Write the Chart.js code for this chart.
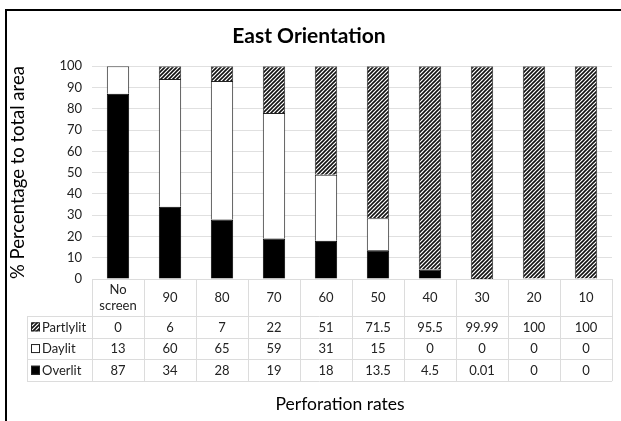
<!DOCTYPE html>
<html>
<head>
<meta charset="utf-8">
<script src="https://cdn.jsdelivr.net/npm/chart.js@4/dist/chart.umd.min.js"></script>
<style>
  html, body { margin: 0; padding: 0; background: #fff; overflow: hidden; }
  #wrap { position: relative; width: 621px; height: 421px; }
  #frame { position: absolute; left: 5px; top: 9px; width: 700px; height: 500px;
           border-left: 2px solid #000; border-top: 2px solid #000; }
  canvas { position: absolute; left: 0; top: 0; }
</style>
</head>
<body>
<div id="wrap">
  <div id="frame"></div>
  <canvas id="eastChart" width="621" height="421"></canvas>
</div>
<script>
const categories = ['No screen', '90', '80', '70', '60', '50', '40', '30', '20', '10'];
const partlylit = [0, 6, 7, 22, 51, 71.5, 95.5, 99.99, 100, 100];
const daylit = [13, 60, 65, 59, 31, 15, 0, 0, 0, 0];
const overlit = [87, 34, 28, 19, 18, 13.5, 4.5, 0.01, 0, 0];
const yTickStep = 10;
const yMax = 100;

const FONT = 'Lato, "Open Sans", sans-serif';

// diagonal hatch used for the Partlylit series
function makeHatch() {
    const size = 4;
    const c = document.createElement('canvas');
    c.width = size;
    c.height = size;
    const p = c.getContext('2d');
    p.fillStyle = '#fff';
    p.fillRect(0, 0, size, size);
    p.strokeStyle = '#111';
    p.lineWidth = 1.6;
    p.beginPath();
    p.moveTo(0, size); p.lineTo(size, 0);
    p.moveTo(-1, 1); p.lineTo(1, -1);
    p.moveTo(size - 1, size + 1); p.lineTo(size + 1, size - 1);
    p.stroke();
    return p.createPattern(c, 'repeat');
}
const hatch = makeHatch();

// data table under the plot plus the x axis title
const dataTable = {
    id: 'dataTable',
    afterDraw(chart) {
        const ctx = chart.ctx;
        const xs = chart.scales.x;
        const area = chart.chartArea;
        const colW = area.width / categories.length;
        const top = area.bottom;
        const headBottom = top + 37;
        const rowH = 21.7;
        const labelLeft = 27;
        const rows = [
            { name: 'Partlylit', values: partlylit, fill: hatch },
            { name: 'Daylit', values: daylit, fill: '#fff' },
            { name: 'Overlit', values: overlit, fill: '#000' }
        ];
        const tableBottom = headBottom + rows.length * rowH;

        ctx.save();
        ctx.strokeStyle = '#dcdcdc';
        ctx.lineWidth = 1;
        ctx.beginPath();
        // header top
        ctx.moveTo(area.left, top + 0.5);
        ctx.lineTo(area.right, top + 0.5);
        // row separators
        for (let r = 0; r <= rows.length; r++) {
            const y = Math.round(headBottom + r * rowH) + 0.5;
            ctx.moveTo(labelLeft, y);
            ctx.lineTo(area.right, y);
        }
        // column separators
        for (let i = 0; i <= categories.length; i++) {
            const x = Math.round(area.left + i * colW) + 0.5;
            ctx.moveTo(x, top);
            ctx.lineTo(x, tableBottom);
        }
        ctx.moveTo(labelLeft + 0.5, headBottom);
        ctx.lineTo(labelLeft + 0.5, tableBottom);
        ctx.stroke();

        ctx.fillStyle = '#222';
        ctx.font = '13px ' + FONT;
        ctx.textAlign = 'center';
        ctx.textBaseline = 'middle';
        categories.forEach((cat, i) => {
            const cx = xs.getPixelForValue(i);
            const words = cat.split(' ');
            if (words.length > 1) {
                ctx.fillText(words[0], cx, top + 11);
                ctx.fillText(words.slice(1).join(' '), cx, top + 27);
            } else {
                ctx.fillText(cat, cx, top + 19);
            }
        });

        rows.forEach((row, r) => {
            const cy = headBottom + r * rowH + rowH / 2 + 0.5;
            row.values.forEach((v, i) => {
                ctx.textAlign = 'center';
                ctx.fillText(String(v), xs.getPixelForValue(i), cy);
            });
            // legend key
            ctx.fillStyle = row.fill;
            ctx.fillRect(31, cy - 5, 9, 9);
            ctx.strokeStyle = '#222';
            ctx.strokeRect(31.5, cy - 4.5, 8, 8);
            ctx.fillStyle = '#222';
            ctx.textAlign = 'left';
            ctx.fillText(row.name, 42, cy);
        });

        ctx.fillStyle = '#000';
        ctx.font = '17.5px ' + FONT;
        ctx.textAlign = 'center';
        ctx.fillText('Perforation rates', 340, 404);
        ctx.restore();
    }
};

const ctx = document.getElementById('eastChart').getContext('2d');

new Chart(ctx, {
    type: 'bar',
    data: {
        labels: categories,
        datasets: [
            {
                label: 'Overlit',
                data: overlit,
                backgroundColor: '#000',
                borderColor: '#000',
                borderWidth: 1
            },
            {
                label: 'Daylit',
                data: daylit,
                backgroundColor: '#fff',
                borderColor: '#222',
                borderWidth: 1
            },
            {
                label: 'Partlylit',
                data: partlylit,
                backgroundColor: hatch,
                borderColor: '#333',
                borderWidth: 1
            }
        ]
    },
    options: {
        responsive: false,
        animation: false,
        layout: {
            padding: { left: 6, right: 9, top: 0, bottom: 142 }
        },
        datasets: {
            bar: { categoryPercentage: 1, barPercentage: 0.43 }
        },
        plugins: {
            legend: { display: false },
            tooltip: { enabled: false },
            title: {
                display: true,
                text: 'East Orientation',
                color: '#000',
                font: { family: FONT, size: 21, weight: 'bold' },
                padding: { top: 24, bottom: 17 }
            }
        },
        scales: {
            x: {
                stacked: true,
                display: false
            },
            y: {
                stacked: true,
                min: 0,
                max: yMax,
                afterFit: function(scale) {
                    scale.width = 86;
                },
                border: { display: false },
                grid: { color: '#e0e0e0', drawTicks: false },
                ticks: {
                    stepSize: yTickStep,
                    padding: 10,
                    color: '#222',
                    font: { family: FONT, size: 13 }
                },
                title: {
                    display: true,
                    text: '% Percentage to total area',
                    color: '#000',
                    font: { family: FONT, size: 18.5 },
                    padding: { top: 1, bottom: 0 }
                }
            }
        }
    },
    plugins: [dataTable]
});
</script>
</body>
</html>
